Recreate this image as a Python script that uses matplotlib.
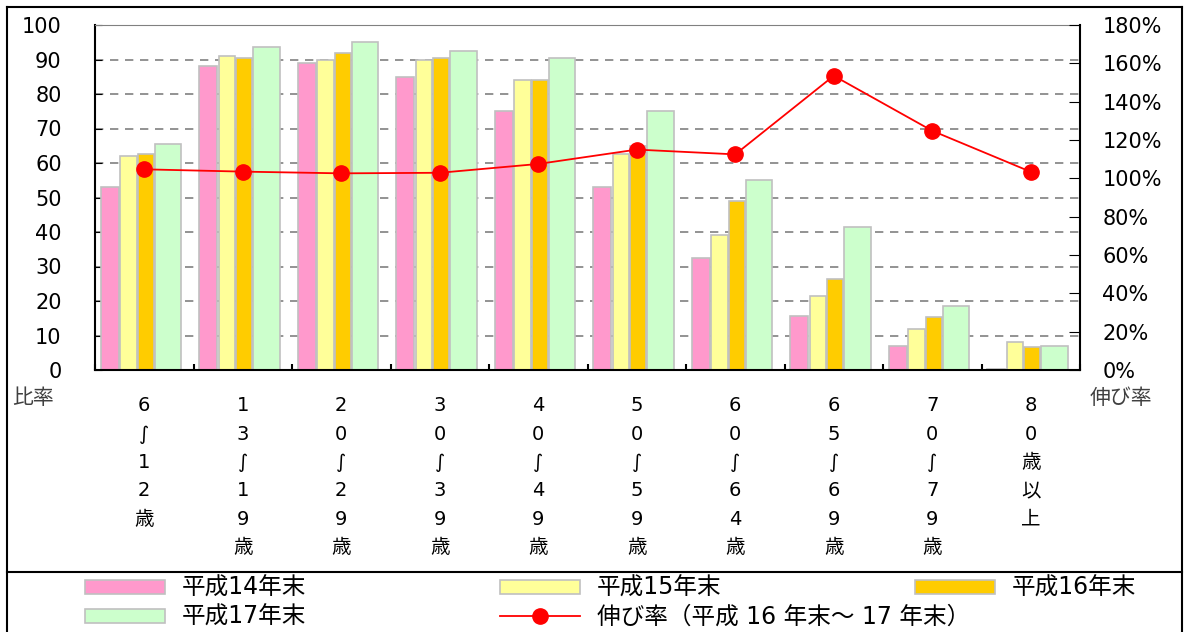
import numpy as np
import matplotlib
matplotlib.use("Agg")
import matplotlib.pyplot as plt
from matplotlib.lines import Line2D

plt.rcParams['font.family'] = ['DejaVu Sans', 'Noto Sans CJK JP']

# ---- data ----
ages = ["6∫12歳", "13∫19歳", "20∫29歳", "30∫39歳", "40∫49歳",
        "50∫59歳", "60∫64歳", "65∫69歳", "70∫79歳", "80歳以上"]
h14 = [53, 88, 89, 85, 75, 53, 32.5, 15.7, 7, 0.3]
h15 = [62, 91, 90, 90, 84, 62.5, 39, 21.5, 12, 8.2]
h16 = [62.5, 90.5, 92, 90.5, 84, 65, 49, 26.5, 15.3, 6.6]
h17 = [65.5, 93.5, 95, 92.5, 90.5, 75, 55, 41.5, 18.5, 7]
growth = [104.7, 103.5, 102.6, 102.9, 107.5, 115, 112.5, 153.5, 124.8, 103.4]

series_names = ["平成14年末", "平成15年末", "平成16年末", "平成17年末"]
line_name = "伸び率（平成 16 年末〜 17 年末）"
colors = ["#ff99cc", "#ffff99", "#ffcc00", "#ccffcc"]
# bar centre offsets and widths inside one group (group width = 1)
offsets = [-0.35, -0.16, 0.015, 0.24]
widths = [0.18, 0.17, 0.16, 0.27]

fig = plt.figure(figsize=(11.93, 6.32), dpi=100)
W, H = 1193, 632
ax = fig.add_axes([95 / W, 1 - 370 / H, (1080 - 95) / W, (370 - 25) / H])

x = np.arange(len(ages))
bars = []
for vals, c, off, w in zip([h14, h15, h16, h17], colors, offsets, widths):
    b = ax.bar(x + off, vals, width=w, color=c, edgecolor="#c0c0c0",
               linewidth=1.2, zorder=2)
    bars.append(b)

ax.set_xlim(-0.5, len(ages) - 0.5)
ax.set_ylim(0, 100)
ax.set_yticks(range(0, 101, 10))
ax.yaxis.grid(True, linestyle=(0, (5, 4)), color="#808080", linewidth=1.2, zorder=1)
ax.set_axisbelow(True)
ax.tick_params(axis="y", direction="in", length=5, labelsize=15, pad=24)

# category labels written vertically, one character per line
ax.set_xticks(x)
ax.set_xticklabels(["\n".join(list(a)) for a in ages], fontsize=14,
                   linespacing=1.62, va="top")
ax.tick_params(axis="x", length=0, pad=19)
ax.set_xticks(np.arange(-0.5, len(ages), 1.0), minor=True)
ax.tick_params(axis="x", which="minor", direction="in", length=4, width=1.5)

for s in ["left", "bottom"]:
    ax.spines[s].set_linewidth(1.5)
ax.spines["top"].set_color("#808080")
ax.spines["right"].set_visible(False)

ax2 = ax.twinx()
ln, = ax2.plot(x, growth, color="#ff0000", linewidth=1.3, marker="o",
               markersize=11, zorder=5)
ax2.set_ylim(0, 180)
ax2.set_yticks(range(0, 181, 20))
ax2.set_yticklabels([f"{v}%" for v in range(0, 181, 20)])
ax2.tick_params(axis="y", direction="in", length=8, labelsize=15, pad=16)
ax2.spines["right"].set_linewidth(1.5)
for s in ["left", "top", "bottom"]:
    ax2.spines[s].set_visible(False)

fig.text(12 / W, 1 - 398 / H, "比率", fontsize=15, color="#404040", va="center")
fig.text(1090 / W, 1 - 398 / H, "伸び率", fontsize=15, color="#404040", va="center")

# outer frame and legend separator
fig.add_artist(Line2D([7 / W, 7 / W], [0, 1 - 7 / H], color="black", lw=1.5))
fig.add_artist(Line2D([7 / W, 1182 / W], [1 - 7 / H, 1 - 7 / H], color="black", lw=1.5))
fig.add_artist(Line2D([1182 / W, 1182 / W], [0, 1 - 7 / H], color="black", lw=1.5))
fig.add_artist(Line2D([7 / W, 1182 / W], [1 - 572 / H, 1 - 572 / H], color="black", lw=1.5))

leg_kw = dict(frameon=False, fontsize=17, handlelength=3.4, handleheight=0.55,
              handletextpad=0.7, columnspacing=8.2, borderpad=0, borderaxespad=0)
fig.legend([bars[0], bars[1], bars[2]], series_names[:3], ncol=3,
           loc="center left", bbox_to_anchor=(85 / W, 1 - 588 / H), **leg_kw)
fig.legend([bars[3], ln], [series_names[3], line_name], ncol=2,
           loc="center left", bbox_to_anchor=(85 / W, 1 - 617 / H), **leg_kw)

fig.savefig("out.png", dpi=100)
